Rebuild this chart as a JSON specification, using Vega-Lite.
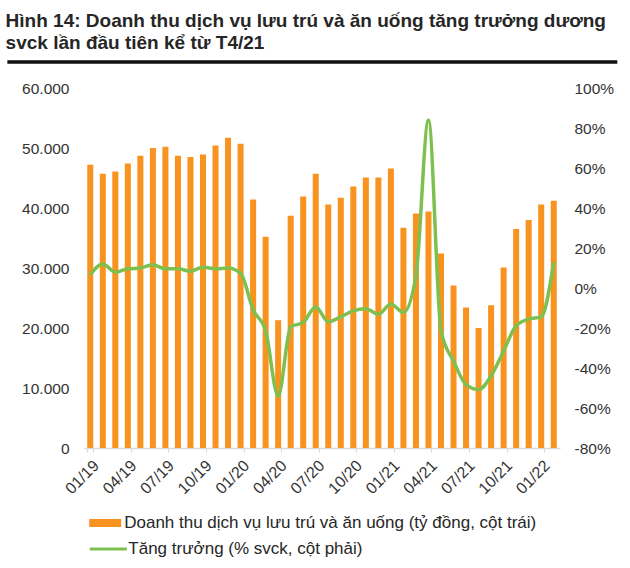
{
  "$schema": "https://vega.github.io/schema/vega-lite/v6.json",
  "width": 476,
  "height": 360,
  "padding": {"left": 5, "right": 5, "top": 12, "bottom": 5},
  "background": "white",
  "config": {
    "view": {"stroke": null},
    "font": "Liberation Sans",
    "axis": {"labelFont": "Liberation Sans", "labelFontSize": 15.5, "labelColor": "#333333", "grid": false}
  },
  "title": {
    "text": ["Hình 14: Doanh thu dịch vụ lưu trú và ăn uống tăng trưởng dương", "svck lần đầu tiên kể từ T4/21"],
    "anchor": "start",
    "frame": "bounds",
    "font": "Liberation Sans",
    "fontSize": 19,
    "fontWeight": "bold",
    "color": "#262626",
    "lineHeight": 22,
    "offset": 7
  },
  "data": {
    "values": [
      {"thang": "01/19", "doanhthu": 47200, "tangtruong": 6.7},
      {"thang": "02/19", "doanhthu": 45700, "tangtruong": 12.0},
      {"thang": "03/19", "doanhthu": 46100, "tangtruong": 7.9},
      {"thang": "04/19", "doanhthu": 47400, "tangtruong": 9.6},
      {"thang": "05/19", "doanhthu": 48700, "tangtruong": 10.0},
      {"thang": "06/19", "doanhthu": 50000, "tangtruong": 11.6},
      {"thang": "07/19", "doanhthu": 50200, "tangtruong": 9.6},
      {"thang": "08/19", "doanhthu": 48700, "tangtruong": 9.6},
      {"thang": "09/19", "doanhthu": 48500, "tangtruong": 8.4},
      {"thang": "10/19", "doanhthu": 48900, "tangtruong": 10.4},
      {"thang": "11/19", "doanhthu": 50400, "tangtruong": 9.6},
      {"thang": "12/19", "doanhthu": 51700, "tangtruong": 10.0},
      {"thang": "01/20", "doanhthu": 50700, "tangtruong": 7.4},
      {"thang": "02/20", "doanhthu": 41400, "tangtruong": -10.9},
      {"thang": "03/20", "doanhthu": 35200, "tangtruong": -21.4},
      {"thang": "04/20", "doanhthu": 21300, "tangtruong": -54.0},
      {"thang": "05/20", "doanhthu": 38700, "tangtruong": -19.4},
      {"thang": "06/20", "doanhthu": 41900, "tangtruong": -17.2},
      {"thang": "07/20", "doanhthu": 45700, "tangtruong": -9.5},
      {"thang": "08/20", "doanhthu": 40600, "tangtruong": -16.9},
      {"thang": "09/20", "doanhthu": 41700, "tangtruong": -14.4},
      {"thang": "10/20", "doanhthu": 43600, "tangtruong": -11.4},
      {"thang": "11/20", "doanhthu": 45100, "tangtruong": -10.4},
      {"thang": "12/20", "doanhthu": 45100, "tangtruong": -13.1},
      {"thang": "01/21", "doanhthu": 46600, "tangtruong": -8.0},
      {"thang": "02/21", "doanhthu": 36700, "tangtruong": -12.2},
      {"thang": "03/21", "doanhthu": 39100, "tangtruong": 6.0},
      {"thang": "04/21", "doanhthu": 39400, "tangtruong": 84.0},
      {"thang": "05/21", "doanhthu": 32400, "tangtruong": -21.4},
      {"thang": "06/21", "doanhthu": 27100, "tangtruong": -36.5},
      {"thang": "07/21", "doanhthu": 23400, "tangtruong": -48.3},
      {"thang": "08/21", "doanhthu": 20000, "tangtruong": -50.8},
      {"thang": "09/21", "doanhthu": 23800, "tangtruong": -44.0},
      {"thang": "10/21", "doanhthu": 30100, "tangtruong": -31.5},
      {"thang": "11/21", "doanhthu": 36500, "tangtruong": -18.9},
      {"thang": "12/21", "doanhthu": 38000, "tangtruong": -15.6},
      {"thang": "01/22", "doanhthu": 40600, "tangtruong": -14.4},
      {"thang": "02/22", "doanhthu": 41200, "tangtruong": 12.9}
    ]
  },
  "layer": [
    {
      "mark": {"type": "bar", "color": "#f7931e"},
      "encoding": {
        "x": {
          "field": "thang", "type": "ordinal", "sort": null,
          "scale": {"paddingInner": 0.52, "paddingOuter": 0.26},
          "axis": {
            "title": null,
            "values": ["01/19", "04/19", "07/19", "10/19", "01/20", "04/20", "07/20", "10/20", "01/21", "04/21", "07/21", "10/21", "01/22"],
            "labelAngle": -45,
            "labelAlign": "right",
            "labelBaseline": "top",
            "labelPadding": 5,
            "labelFontSize": 16,
            "tickBand": "extent",
            "domainColor": "#d9d9d9",
            "tickColor": "#d9d9d9",
            "tickSize": 4,
            "domainWidth": 1.5
          }
        },
        "y": {
          "field": "doanhthu", "type": "quantitative",
          "scale": {"domain": [0, 60000], "nice": false},
          "axis": {
            "title": null,
            "values": [0, 10000, 20000, 30000, 40000, 50000, 60000],
            "labelExpr": "replace(format(datum.value, ','), ',', '.')",
            "domain": false, "ticks": false, "labelPadding": 15
          }
        },
        "color": {
          "datum": "Doanh thu dịch vụ lưu trú và ăn uống (tỷ đồng, cột trái)",
          "scale": {"range": ["#f7931e"]},
          "legend": {
            "title": null, "orient": "none", "legendX": 11.2, "legendY": 425, "padding": 0,
            "symbolType": "M-1.6,-0.4H1.6V0.4H-1.6Z", "symbolSize": 400, "symbolStrokeWidth": 0,
            "labelOffset": 9, "labelFont": "Liberation Sans", "labelFontSize": 17, "labelColor": "#262626", "labelLimit": 600
          }
        }
      }
    },
    {
      "mark": {"type": "line", "interpolate": "monotone", "strokeWidth": 3.5, "color": "#7ec04f"},
      "encoding": {
        "x": {
          "field": "thang", "type": "ordinal", "sort": null,
          "scale": {"paddingInner": 0.52, "paddingOuter": 0.26},
          "axis": null
        },
        "y": {
          "field": "tangtruong", "type": "quantitative",
          "scale": {"domain": [-80, 100], "nice": false},
          "axis": {
            "title": null, "orient": "right",
            "values": [-80, -60, -40, -20, 0, 20, 40, 60, 80, 100],
            "labelExpr": "datum.value + '%'",
            "domain": false, "ticks": false, "labelPadding": 14
          }
        },
        "stroke": {
          "datum": "Tăng trưởng (% svck, cột phải)",
          "scale": {"range": ["#7ec04f"]},
          "legend": {
            "title": null, "orient": "none", "legendX": 4.3, "legendY": 441, "padding": 0,
            "symbolType": "stroke", "symbolSize": 1369, "symbolStrokeWidth": 3,
            "labelOffset": 0, "labelFont": "Liberation Sans", "labelFontSize": 17, "labelColor": "#262626", "labelLimit": 600
          }
        }
      }
    },
    {
      "data": {"values": [{"vat": "title rule"}]},
      "mark": {"type": "rule", "color": "#111111", "strokeWidth": 3.5},
      "encoding": {
        "x": {"datum": -0.161, "type": "quantitative", "scale": {"domain": [0, 1]}, "axis": null},
        "x2": {"datum": 1.1204},
        "y": {"datum": 64333, "type": "quantitative", "scale": {"domain": [0, 60000], "nice": false}, "axis": null}
      }
    }
  ],
  "resolve": {"scale": {"x": "independent", "y": "independent"}}
}
